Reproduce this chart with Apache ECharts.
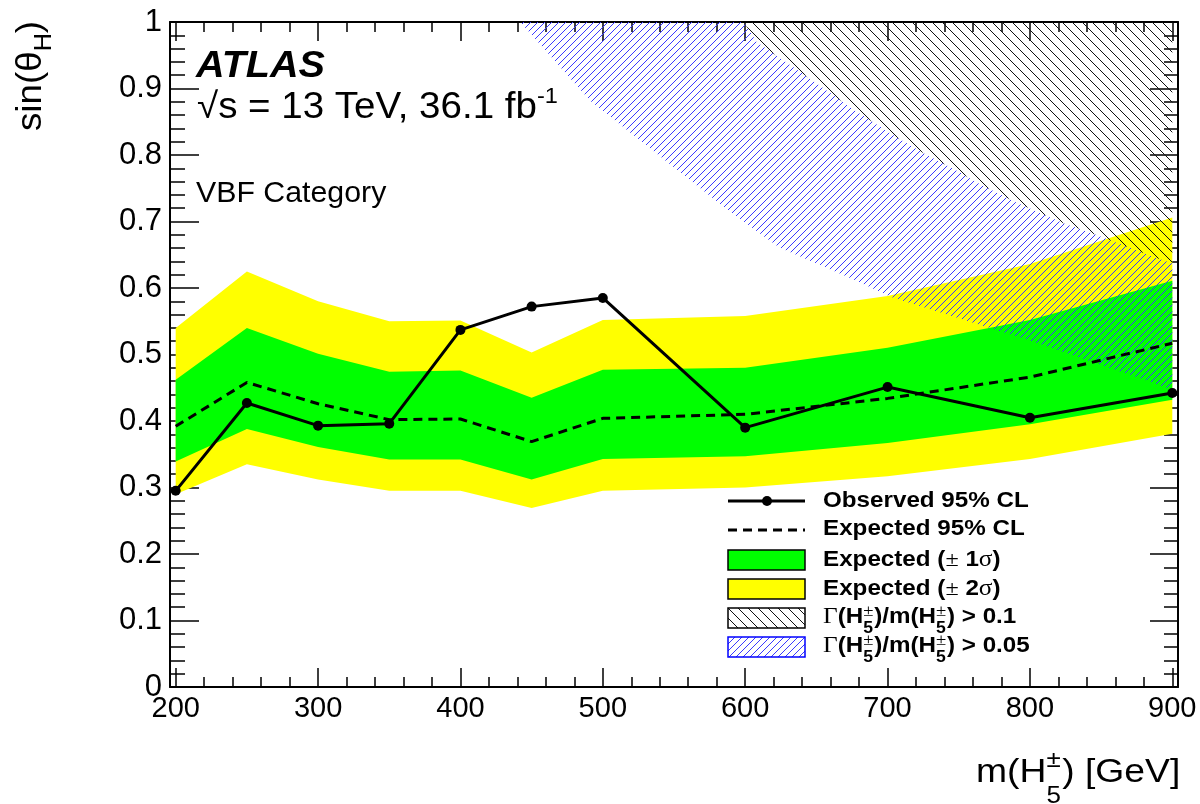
<!DOCTYPE html>
<html>
<head>
<meta charset="utf-8">
<script src="https://cdn.jsdelivr.net/npm/echarts@6/dist/echarts.min.js"></script>
<style>
html,body{margin:0;padding:0;background:#fff;}
#chart{width:1200px;height:804px;}
</style>
</head>
<body>
<div id="chart"></div>
<script>
// ---------------- data ----------------
const masses   = [200, 250, 300, 350, 400, 450, 500, 600, 700, 800, 900];
const observed = [0.295, 0.427, 0.393, 0.396, 0.537, 0.572, 0.585, 0.390, 0.451, 0.405, 0.442];
const expected = [0.392, 0.458, 0.426, 0.402, 0.403, 0.369, 0.404, 0.410, 0.434, 0.466, 0.517];
const plus1    = [0.462, 0.540, 0.501, 0.474, 0.476, 0.435, 0.477, 0.480, 0.510, 0.552, 0.611];
const minus1   = [0.339, 0.388, 0.361, 0.342, 0.342, 0.312, 0.343, 0.347, 0.367, 0.395, 0.432];
const plus2    = [0.540, 0.625, 0.580, 0.550, 0.551, 0.503, 0.552, 0.558, 0.588, 0.636, 0.706];
const minus2   = [0.290, 0.335, 0.312, 0.295, 0.295, 0.269, 0.295, 0.300, 0.317, 0.343, 0.381];

// Gamma/m > 0.05 contour (lower edge of blue hatched region)
const width005M = [442, 491, 538, 588, 624, 675, 703, 800, 882, 900];
const width005V = [1.0, 0.882, 0.802, 0.717, 0.661, 0.614, 0.586, 0.521, 0.461, 0.447];
// Gamma/m > 0.1 contour (lower edge of black hatched region)
const width01M = [599, 608, 642, 677, 706, 726, 748, 764, 790, 824, 844, 888, 900];
const width01V = [1.0, 0.970, 0.920, 0.867, 0.827, 0.802, 0.777, 0.757, 0.729, 0.697, 0.682, 0.646, 0.637];

const xMajorTicks = [200, 300, 400, 500, 600, 700, 800, 900];
const xMinorTicks = [220,240,260,280, 320,340,360,380, 420,440,460,480, 520,540,560,580,
                     620,640,660,680, 720,740,760,780, 820,840,860,880];
const xMin = 196, xMax = 904;

// ---------------- helpers ----------------
const FF = '"Liberation Sans", Arial, Helvetica, sans-serif';
const SERIF = '"Liberation Serif", "Times New Roman", serif';
const mctx = document.createElement('canvas').getContext('2d');
function tw(text, font){ mctx.font = font; return mctx.measureText(text).width; }

// crisp 1px diagonal hatch tiles
function hatch(color, size, dir){
  const c = document.createElement('canvas');
  c.width = size; c.height = size;
  const g = c.getContext('2d');
  g.fillStyle = color;
  for (let i = 0; i < size; i++) {
    if (dir === '/') g.fillRect(i, size - 1 - i, 1, 1);
    else g.fillRect(i, i, 1, 1);
  }
  return c;
}
const blueHatch = hatch('#3a3aff', 7, '/');
const blackHatch = hatch('#111111', 10, '\\');

function seq(x, cy, parts, sx){
  sx = sx || 1;
  const els = []; let cx = x;
  parts.forEach(p => {
    els.push({type:'text', x: cx, y: cy + (p.dy || 0), z: 100, scaleX: sx,
      style:{text:p.t, font:p.font, fill:p.fill || '#000',
             textAlign:'left', textVerticalAlign:'middle', align:'left', verticalAlign:'middle'}});
    if (!p.stack) cx += Math.max(tw(p.t, p.font), p.minw || 0) * sx;
  });
  return els;
}

function polyBand(upper, lower, color){
  return function(params, api){
    const pts = [];
    for (let i = 0; i < masses.length; i++) pts.push(api.coord([masses[i], upper[i]]));
    for (let i = masses.length - 1; i >= 0; i--) pts.push(api.coord([masses[i], lower[i]]));
    return {type:'polygon', shape:{points:pts}, style:{fill: color}};
  };
}

function blueRegion(params, api){
  const pts = [];
  for (let i = 0; i < width005M.length; i++) pts.push(api.coord([width005M[i], width005V[i]]));
  for (let i = width01M.length - 1; i >= 0; i--) pts.push(api.coord([width01M[i], width01V[i]]));
  return {type:'polygon', shape:{points:pts}, style:{fill:{image: blueHatch, repeat:'repeat'}}};
}
function blackRegion(params, api){
  const pts = [];
  for (let i = 0; i < width01M.length; i++) pts.push(api.coord([width01M[i], width01V[i]]));
  pts.push(api.coord([900, 1.0]));
  return {type:'polygon', shape:{points:pts}, style:{fill:{image: blackHatch, repeat:'repeat'}}};
}

// ---------------- axes ----------------
const tickStyle = {color:'#000', width:1.5};
function xAxisDef(pos, ticks, len, labels, line){
  return {type:'value', min:xMin, max:xMax, position:pos,
    axisLine:{show:line, onZero:false, lineStyle:{color:'#000', width:2}},
    axisTick:{show:true, inside:true, length:len, customValues:ticks, lineStyle:tickStyle},
    axisLabel: labels ? {show:true, customValues:ticks, fontSize:29, fontFamily:FF, color:'#000', margin:7}
                      : {show:false},
    splitLine:{show:false}};
}
function yAxisDef(pos, majLen, minLen, labels){
  return {type:'value', min:0, max:1, interval:0.1, position:pos,
    axisLine:{show:true, onZero:false, lineStyle:{color:'#000', width:2}},
    axisTick:{show:true, inside:true, length:majLen, lineStyle:tickStyle},
    minorTick:{show:true, splitNumber:5, length:minLen, lineStyle:tickStyle},
    axisLabel: labels ? {show:true, fontSize:31, fontFamily:FF, color:'#000', margin:8,
        formatter: v => { const r = Math.round(v*10)/10; return (r === 0 || r === 1) ? String(r) : r.toFixed(1); }}
      : {show:false},
    splitLine:{show:false}, minorSplitLine:{show:false}};
}

// ---------------- text / legend graphics ----------------
const g = [];
// ATLAS label
g.push(...seq(196, 67, [{t:'ATLAS', font:'italic bold 37px ' + FF}], 1.07));
g.push(...seq(197, 108, [{t:'\u221As = 13 TeV, 36.1 fb', font:'36px ' + FF},
                         {t:'-1', font:'22px ' + FF, dy:-11}], 1.07));
g.push(...seq(196, 194, [{t:'VBF Category', font:'30px ' + FF}], 1.01));

// x-axis title
g.push(...seq(976, 773, [{t:'m(H', font:'33px ' + FF},
                         {t:'\u00B1', font:'23px ' + FF, dy:-12, stack:true},
                         {t:'5', font:'23px ' + FF, dy:24, minw:14},
                         {t:') [GeV]', font:'33px ' + FF}], 1.13));
// y-axis title (rotated)
g.push({type:'group', x:31, y:131, rotation:Math.PI/2,
  children: seq(0, 0, [{t:'sin(\u03B8', font:'35px ' + FF},
                       {t:'H', font:'24px ' + FF, dy:13},
                       {t:')', font:'35px ' + FF}], 1.05)});

// legend
const LB = 'bold 22px ' + FF;
const LS = 'bold 16px ' + FF;
const LX = 1.1;
const lx0 = 728, lx1 = 805, tx = 823;
g.push({type:'line', z:100, shape:{x1:lx0, y1:501, x2:lx1, y2:501}, style:{stroke:'#000', lineWidth:3}});
g.push({type:'circle', z:101, shape:{cx:767, cy:501, r:5}, style:{fill:'#000'}});
g.push(...seq(tx, 501, [{t:'Observed 95% CL', font:LB}], LX));
g.push({type:'line', z:100, shape:{x1:lx0, y1:530, x2:lx1, y2:530}, style:{stroke:'#000', lineWidth:3, lineDash:[9,6]}});
g.push(...seq(tx, 529, [{t:'Expected 95% CL', font:LB}], LX));
g.push({type:'rect', z:100, shape:{x:lx0, y:550, width:lx1-lx0, height:20}, style:{fill:'#00ff00', stroke:'#000', lineWidth:1.5}});
g.push(...seq(tx, 560, [{t:'Expected (', font:LB}, {t:'\u00B1', font:'22px ' + SERIF}, {t:' 1', font:LB},
                        {t:'\u03C3', font:'23px ' + SERIF}, {t:')', font:LB}], LX));
g.push({type:'rect', z:100, shape:{x:lx0, y:579, width:lx1-lx0, height:20}, style:{fill:'#ffff00', stroke:'#000', lineWidth:1.5}});
g.push(...seq(tx, 589, [{t:'Expected (', font:LB}, {t:'\u00B1', font:'22px ' + SERIF}, {t:' 2', font:LB},
                        {t:'\u03C3', font:'23px ' + SERIF}, {t:')', font:LB}], LX));
g.push({type:'rect', z:100, shape:{x:lx0, y:608, width:lx1-lx0, height:20}, style:{fill:{image:blackHatch, repeat:'repeat'}, stroke:'#000', lineWidth:1.5}});
const gamma = (cy, val) => seq(tx, cy, [
  {t:'\u0393', font:'23px ' + SERIF}, {t:'(H', font:LB},
  {t:'\u00B1', font:'17px ' + SERIF, dy:-5, stack:true}, {t:'5', font:LS, dy:12, minw:10},
  {t:')/m(H', font:LB},
  {t:'\u00B1', font:'17px ' + SERIF, dy:-5, stack:true}, {t:'5', font:LS, dy:12, minw:10},
  {t:') > ' + val, font:LB}], LX);
g.push(...gamma(617, '0.1'));
g.push({type:'rect', z:100, shape:{x:lx0, y:637, width:lx1-lx0, height:20}, style:{fill:{image:blueHatch, repeat:'repeat'}, stroke:'#0000ff', lineWidth:1.5}});
g.push(...gamma(646, '0.05'));

// ---------------- chart ----------------
const chart = echarts.init(document.getElementById('chart'), null, {renderer:'canvas'});
chart.setOption({
  animation:false,
  backgroundColor:'#fff',
  grid:{left:170, right:22, top:22, bottom:117},
  xAxis:[
    xAxisDef('bottom', xMajorTicks, 19, true, true),
    xAxisDef('bottom', xMinorTicks, 10, false, false),
    xAxisDef('top', xMajorTicks, 19, false, true),
    xAxisDef('top', xMinorTicks, 10, false, false)
  ],
  yAxis:[ yAxisDef('left', 29, 15, true), yAxisDef('right', 28, 14, false) ],
  series:[
    {name:'band2', type:'custom', renderItem: polyBand(plus2, minus2, '#ffff00'), data:[[masses[0], plus2[0]]], z:1, silent:true},
    {name:'band1', type:'custom', renderItem: polyBand(plus1, minus1, '#00ff00'), data:[[masses[0], plus1[0]]], z:2, silent:true},
    {name:'width005', type:'custom', renderItem: blueRegion, data:[[width005M[0], width005V[0]]], z:3, silent:true},
    {name:'width01', type:'custom', renderItem: blackRegion, data:[[width01M[0], width01V[0]]], z:4, silent:true},
    {name:'Expected 95% CL', type:'line', z:5, data: masses.map((m,i)=>[m, expected[i]]),
      symbol:'none', lineStyle:{color:'#000', width:3, type:[9,6]}},
    {name:'Observed 95% CL', type:'line', z:6, data: masses.map((m,i)=>[m, observed[i]]),
      symbol:'circle', symbolSize:10, itemStyle:{color:'#000'}, lineStyle:{color:'#000', width:3}}
  ],
  graphic: g
});
</script>
</body>
</html>
